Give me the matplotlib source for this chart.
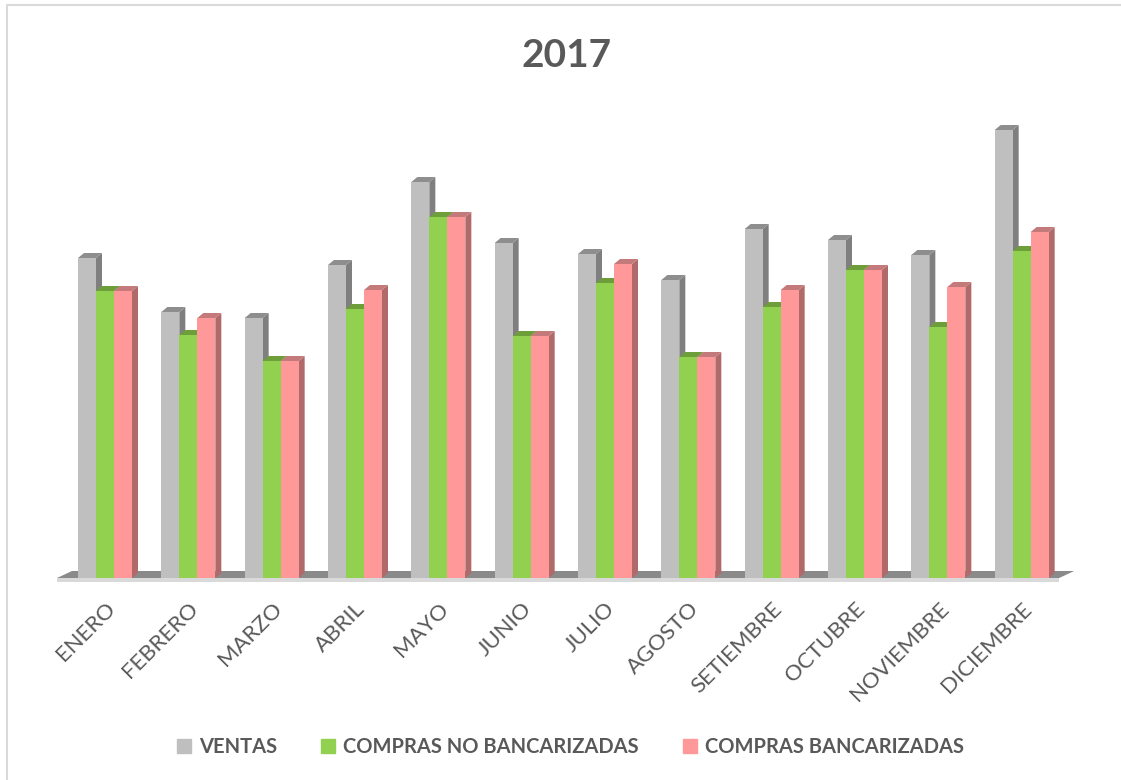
import numpy as np
import matplotlib.pyplot as plt
from matplotlib.patches import Polygon, Patch
from matplotlib.lines import Line2D

plt.rcParams['font.family'] = ['Lato', 'DejaVu Sans']

meses = ['ENERO', 'FEBRERO', 'MARZO', 'ABRIL', 'MAYO', 'JUNIO', 'JULIO',
         'AGOSTO', 'SETIEMBRE', 'OCTUBRE', 'NOVIEMBRE', 'DICIEMBRE']
ventas = [320, 266, 260, 313, 396, 335, 324, 298, 349, 338, 323, 448]
compras_no_banc = [287, 243, 217, 269, 361, 242, 295, 221, 271, 308, 251, 327]
compras_banc = [287, 260, 217, 288, 361, 242, 314, 221, 288, 308, 291, 346]

# nombre, valores, frente, lado, techo
series = [
    ('VENTAS', ventas, '#BFBFBF', '#7F7F7F', '#8E8E8E'),
    ('COMPRAS NO BANCARIZADAS', compras_no_banc, '#92D050', '#6A9A3A', '#6E9E3A'),
    ('COMPRAS BANCARIZADAS', compras_banc, '#FF9999', '#B06A6A', '#C47A7A'),
]
gris_texto = '#595959'

fig = plt.figure(figsize=(11.21, 7.8), dpi=100)
ax = fig.add_axes([60 / 1121, 202 / 780, 1015 / 1121, 458 / 780])
ax.set_xlim(-0.54, 11.64)
ax.set_ylim(0, 458)
for s in ax.spines.values():
    s.set_visible(False)
ax.set_yticks([])

ancho = 0.216
dx, dy = 0.072, 5
x = np.arange(len(meses))

# piso 3D
x0, x1 = -0.576, 11.45
fdx, fdy = 0.18, 7
ax.add_patch(Polygon([(x0, 0), (x1, 0), (x1 + fdx, fdy), (x0 + fdx, fdy)],
                     color='#8A8A8A', lw=0, zorder=0.5, clip_on=False))
ax.add_patch(Polygon([(x0, 0), (x1, 0), (x1, -4), (x0, -4)],
                     color='#D9D9D9', lw=0, zorder=0.5, clip_on=False))

for j, (nombre, valores, frente, lado, techo) in enumerate(series):
    z = 1 + j
    centros = x + (j - 1) * ancho
    for c, v in zip(centros, valores):
        izq = c - ancho / 2
        der = c + ancho / 2
        ax.add_patch(Polygon([(der, 0), (der + dx, dy), (der + dx, v + dy), (der, v)],
                             color=lado, lw=0, zorder=z))
        ax.add_patch(Polygon([(izq, v), (der, v), (der + dx, v + dy), (izq + dx, v + dy)],
                             color=techo, lw=0, zorder=z))
    ax.bar(centros, valores, ancho, color=frente, zorder=z + 0.5, label=nombre)

ax.set_xticks(x)
ax.set_xticklabels(meses, rotation=45, ha='right', rotation_mode='anchor',
                   fontsize=16, color=gris_texto)
ax.tick_params(axis='x', length=0, pad=15)

fig.text(0.505, 0.929, '2017', ha='center', va='center', fontsize=28,
         fontweight='bold', color=gris_texto)

handles = [Patch(color=s[2]) for s in series]
fig.legend(handles, [s[0] for s in series], loc='center', bbox_to_anchor=(0.509, 0.042),
           ncol=3, frameon=False, handlelength=0.7, handleheight=0.7,
           handletextpad=0.4, columnspacing=2.2,
           prop={'size': 14.5, 'weight': 'bold'}, labelcolor=gris_texto)

# borde del area del grafico
fig.add_artist(Line2D([7 / 1121, 7 / 1121, 1], [0, 1 - 5 / 780, 1 - 5 / 780],
                      color='#D9D9D9', lw=1.5, transform=fig.transFigure))

fig.savefig('out.png', dpi=100)
